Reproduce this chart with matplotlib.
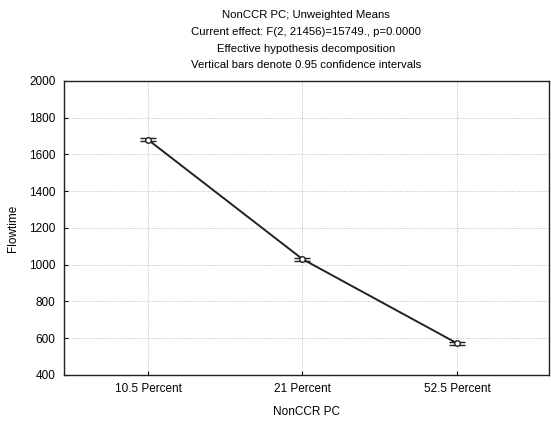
import numpy as np
import matplotlib
matplotlib.use("Agg")
import matplotlib.pyplot as plt

# Unweighted means of flowtime per NonCCR PC level, with 0.95 CI half-widths.
levels = ["10.5 Percent", "21 Percent", "52.5 Percent"]
means = [1680, 1030, 572]
ci_half = [9, 8, 8]

plt.rcParams.update({
    "font.family": ["Liberation Sans", "DejaVu Sans"],
    "font.size": 8,
})

fig = plt.figure(figsize=(5.51, 4.24), dpi=100)
ax = fig.add_axes([0.116, 0.116, 0.88, 0.693])

x = np.arange(len(levels))
ax.errorbar(x, means, yerr=ci_half, color="#222222", lw=1.4,
            marker="o", ms=4, mfc="white", mec="#222222", mew=1.0,
            capsize=6, capthick=1.1, elinewidth=1.0)

ax.set_xlim(-0.545, 2.595)
ax.set_ylim(400, 2000)
ax.set_yticks(np.arange(400, 2001, 200))
ax.set_xticks(x)
ax.set_xticklabels(levels)
ax.grid(True, color="#bbbbbb", ls=(0, (1, 1.5)), lw=0.7)
ax.tick_params(direction="in", length=3, width=0.8, pad=6, labelsize=8.5)
for s in ax.spines.values():
    s.set_linewidth(1.0)
    s.set_color("#222222")

ax.set_xlabel("NonCCR PC", fontsize=8.5, labelpad=8)
ax.set_ylabel("Flowtime", fontsize=8.5, labelpad=7)
ax.set_title("NonCCR PC; Unweighted Means\n"
             "Current effect: F(2, 21456)=15749., p=0.0000\n"
             "Effective hypothesis decomposition\n"
             "Vertical bars denote 0.95 confidence intervals",
             fontsize=8.2, linespacing=1.85, pad=9)

fig.savefig("out.png", dpi=100)
